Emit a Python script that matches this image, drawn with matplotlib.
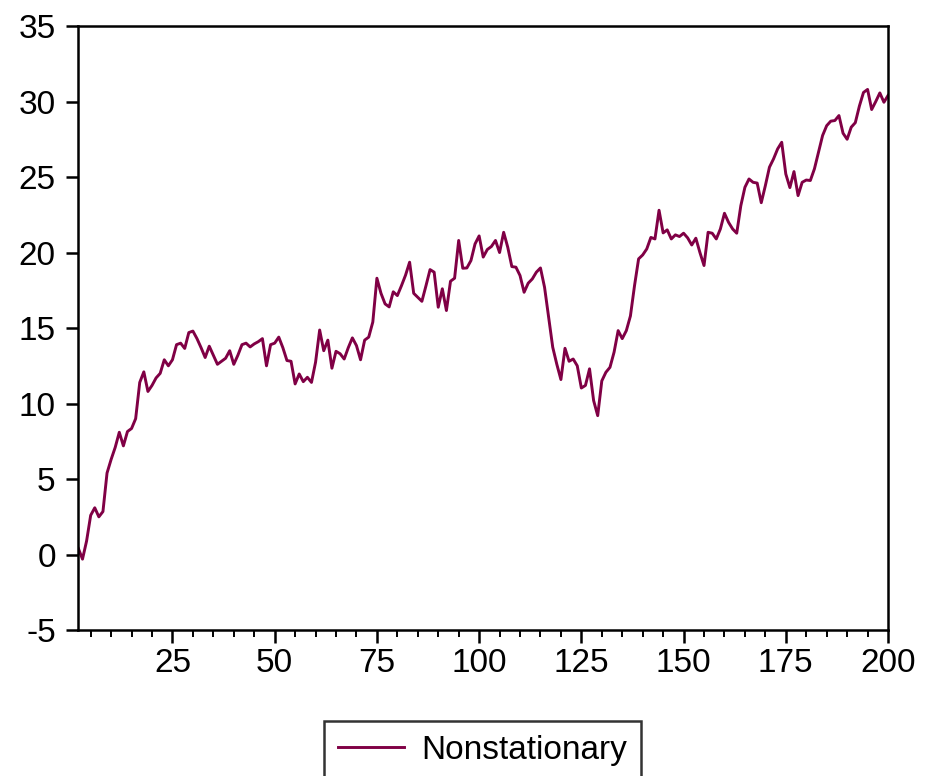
import numpy as np
import matplotlib
matplotlib.use("Agg")
from matplotlib import pyplot as plt
from matplotlib.ticker import MultipleLocator

plt.rcParams["font.family"] = ["Liberation Sans", "DejaVu Sans"]
plt.rcParams["axes.unicode_minus"] = False

# observations 2..200
obs = np.arange(2, 201)
nonstationary = [
    0.4, -0.3, 0.9, 2.6, 3.1, 2.5, 2.85, 5.4, 6.3, 7.1,
    8.1, 7.2, 8.15, 8.35, 9.0, 11.4, 12.1, 10.8, 11.2, 11.7,
    12.0, 12.9, 12.5, 12.9, 13.9, 14.0, 13.65, 14.7, 14.8, 14.3,
    13.7, 13.05, 13.8, 13.2, 12.6, 12.8, 13.0, 13.5, 12.6, 13.2,
    13.9, 14.0, 13.75, 13.95, 14.1, 14.3, 12.5, 13.9, 14.0, 14.4,
    13.7, 12.85, 12.8, 11.3, 11.96, 11.45, 11.74, 11.4, 12.74, 14.87,
    13.5, 14.2, 12.34, 13.46, 13.3, 12.95, 13.7, 14.35, 13.84, 12.9,
    14.2, 14.4, 15.4, 18.3, 17.3, 16.6, 16.4, 17.4, 17.15, 17.8,
    18.5, 19.36, 17.3, 17.04, 16.77, 17.8, 18.87, 18.7, 16.38, 17.6,
    16.16, 18.1, 18.3, 20.8, 18.96, 18.98, 19.47, 20.57, 21.1, 19.7,
    20.2, 20.4, 20.8, 20.0, 21.34, 20.35, 19.07, 19.03, 18.48, 17.37,
    17.97, 18.25, 18.7, 18.98, 17.7, 15.7, 13.73, 12.6, 11.59, 13.66,
    12.8, 12.95, 12.5, 11.03, 11.2, 12.3, 10.2, 9.2, 11.5, 12.07,
    12.4, 13.4, 14.83, 14.3, 14.83, 15.8, 17.8, 19.58, 19.84, 20.24,
    21.0, 20.9, 22.8, 21.3, 21.5, 20.9, 21.17, 21.06, 21.28, 20.97,
    20.5, 20.95, 20.0, 19.14, 21.34, 21.28, 20.9, 21.56, 22.6, 22.0,
    21.56, 21.28, 23.1, 24.32, 24.87, 24.65, 24.6, 23.3, 24.43, 25.65,
    26.2, 26.86, 27.3, 25.2, 24.3, 25.36, 23.77, 24.65, 24.8, 24.77,
    25.54, 26.64, 27.75, 28.4, 28.7, 28.74, 29.07, 27.9, 27.5, 28.3,
    28.6, 29.7, 30.6, 30.8, 29.47, 30.0, 30.57, 29.95, 30.4,
]

fig = plt.figure(figsize=(9.42, 7.76), dpi=100)
ax = fig.add_axes([0.0828, 0.188, 0.8599, 0.7785])

ax.plot(obs, nonstationary, color="#800045", lw=2.1, label="Nonstationary")

ax.set_xlim(1.9, 200)
ax.set_ylim(-5, 35)
ax.xaxis.set_major_locator(MultipleLocator(25))
ax.xaxis.set_minor_locator(MultipleLocator(5))
ax.yaxis.set_major_locator(MultipleLocator(5))

for s in ax.spines.values():
    s.set_linewidth(1.8)
    s.set_color("black")

ax.tick_params(axis="both", which="major", labelsize=24, width=1.8,
               length=9, direction="out", pad=4)
ax.tick_params(axis="y", which="major", pad=7)
ax.tick_params(axis="x", which="minor", width=1.4, length=5, direction="out")

leg = fig.legend(loc="upper center", bbox_to_anchor=(0.512, 1 - 721 / 776),
                 borderaxespad=0, fontsize=24, frameon=True, fancybox=False,
                 edgecolor="black", handlelength=2.0, handletextpad=0.5,
                 borderpad=0.42)
leg.get_frame().set_linewidth(1.8)

fig.savefig("out.png", dpi=100)
